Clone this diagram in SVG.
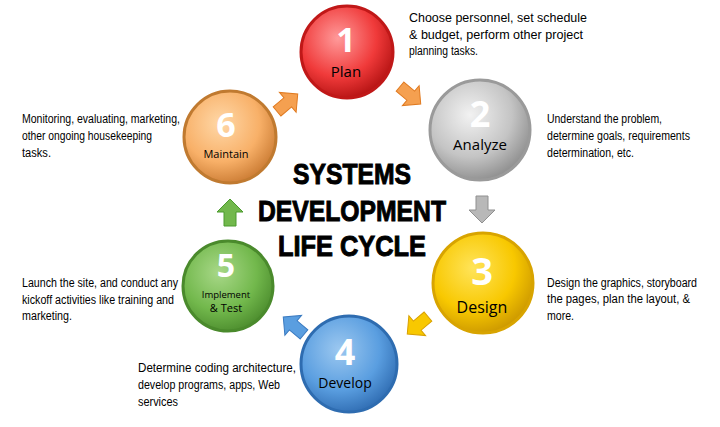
<svg xmlns="http://www.w3.org/2000/svg" width="720" height="427" viewBox="0 0 720 427">
<defs>
<radialGradient id="gR" cx="0.4" cy="0.35" r="0.7"><stop offset="0" stop-color="#ff9a9a"/><stop offset="0.6" stop-color="#f03a3a"/><stop offset="1" stop-color="#b01010"/></radialGradient>
<radialGradient id="gG" cx="0.4" cy="0.35" r="0.7"><stop offset="0" stop-color="#f2f2f2"/><stop offset="0.6" stop-color="#c4c4c4"/><stop offset="1" stop-color="#8a8a8a"/></radialGradient>
<radialGradient id="gY" cx="0.4" cy="0.35" r="0.7"><stop offset="0" stop-color="#ffe45a"/><stop offset="0.6" stop-color="#f8c800"/><stop offset="1" stop-color="#c89400"/></radialGradient>
<radialGradient id="gB" cx="0.4" cy="0.35" r="0.7"><stop offset="0" stop-color="#9cc8f0"/><stop offset="0.6" stop-color="#5a9ee0"/><stop offset="1" stop-color="#2d6ab0"/></radialGradient>
<radialGradient id="gGr" cx="0.4" cy="0.35" r="0.7"><stop offset="0" stop-color="#a8d888"/><stop offset="0.6" stop-color="#72b84c"/><stop offset="1" stop-color="#4a8a2c"/></radialGradient>
<radialGradient id="gO" cx="0.4" cy="0.35" r="0.7"><stop offset="0" stop-color="#ffd8a8"/><stop offset="0.6" stop-color="#f8b068"/><stop offset="1" stop-color="#c87830"/></radialGradient>
<path id="arr" d="M-13,-6 L1,-6 L1,-13 L14,0 L1,13 L1,6 L-13,6 Z"/>
</defs>
<style>
.num{font-family:"Open Sans","DejaVu Sans",sans-serif;font-weight:bold;fill:#fff;text-anchor:middle}
.lbl{font-family:"Open Sans","DejaVu Sans",sans-serif;fill:#000;text-anchor:middle}
.desc{font-family:"Liberation Sans",sans-serif;font-size:12px;fill:#000}
.title{font-family:"Liberation Sans",sans-serif;font-weight:bold;font-size:30px;fill:#000;stroke:#000;stroke-width:1;text-anchor:middle}
circle{stroke-width:3}
</style>
<rect width="720" height="427" fill="#fff"/>
<g id="connectors">
<use href="#arr" transform="translate(287,103) rotate(-40)" fill="#f5a050" stroke="#e07a20"/>
<use href="#arr" transform="translate(410,95) rotate(40)" fill="#f5a050" stroke="#e07a20"/>
<use href="#arr" transform="translate(482,209) rotate(90)" fill="#b8b8b8" stroke="#909090"/>
<use href="#arr" transform="translate(418,325) rotate(140)" fill="#f8c800" stroke="#d8a000"/>
<use href="#arr" transform="translate(294,326) rotate(-140)" fill="#5a9ee0" stroke="#3a7ac0"/>
<use href="#arr" transform="translate(230,213) rotate(-90)" fill="#72b84c" stroke="#4a9a2c"/>
</g>
<g id="node1"><circle cx="347" cy="52" r="46" fill="url(#gR)" stroke="#c01818"/><text class="num" x="346" y="52" font-size="34">1</text><text class="lbl" x="346" y="77" font-size="15">Plan</text></g>
<g id="node2"><circle cx="480" cy="130" r="50" fill="url(#gG)" stroke="#9a9a9a"/><text class="num" x="480" y="127" font-size="36">2</text><text class="lbl" x="480" y="150" font-size="15">Analyze</text></g>
<g id="node3"><circle cx="483" cy="283" r="50" fill="url(#gY)" stroke="#d8a400"/><text class="num" x="482" y="285" font-size="38">3</text><text class="lbl" x="482" y="313" font-size="16">Design</text></g>
<g id="node4"><circle cx="349" cy="364" r="48" fill="url(#gB)" stroke="#2e6cb0"/><text class="num" x="345" y="365" font-size="36">4</text><text class="lbl" x="345" y="388" font-size="14">Develop</text></g>
<g id="node5"><circle cx="228" cy="286" r="45" fill="url(#gGr)" stroke="#4a8a2c"/><text class="num" x="226" y="277" font-size="32">5</text><text class="lbl" x="226" y="298" font-size="9.5">Implement</text><text class="lbl" x="226" y="312" font-size="11">&amp; Test</text></g>
<g id="node6"><circle cx="230" cy="137" r="46" fill="url(#gO)" stroke="#c07a30"/><text class="num" x="226" y="137" font-size="34">6</text><text class="lbl" x="226" y="158" font-size="11">Maintain</text></g>
<g id="title">
<text class="title" x="352" y="184" textLength="118" lengthAdjust="spacingAndGlyphs">SYSTEMS</text>
<text class="title" x="352" y="221" textLength="188" lengthAdjust="spacingAndGlyphs">DEVELOPMENT</text>
<text class="title" x="352" y="256" textLength="148" lengthAdjust="spacingAndGlyphs">LIFE CYCLE</text>
</g>
<g id="descs">
<text class="desc" x="409" y="22" textLength="178" lengthAdjust="spacingAndGlyphs">Choose personnel, set schedule</text>
<text class="desc" x="409" y="39" textLength="174" lengthAdjust="spacingAndGlyphs">&amp; budget, perform other project</text>
<text class="desc" x="409" y="55" textLength="69" lengthAdjust="spacingAndGlyphs">planning tasks.</text>
<text class="desc" x="547" y="123" textLength="115" lengthAdjust="spacingAndGlyphs">Understand the problem,</text>
<text class="desc" x="547" y="140" textLength="143" lengthAdjust="spacingAndGlyphs">determine goals, requirements</text>
<text class="desc" x="547" y="157" textLength="87" lengthAdjust="spacingAndGlyphs">determination, etc.</text>
<text class="desc" x="547" y="287" textLength="150" lengthAdjust="spacingAndGlyphs">Design the graphics, storyboard</text>
<text class="desc" x="547" y="303" textLength="143" lengthAdjust="spacingAndGlyphs">the pages, plan the layout, &amp;</text>
<text class="desc" x="547" y="320" textLength="27" lengthAdjust="spacingAndGlyphs">more.</text>
<text class="desc" x="138" y="372" textLength="158" lengthAdjust="spacingAndGlyphs">Determine coding architecture,</text>
<text class="desc" x="138" y="389" textLength="142" lengthAdjust="spacingAndGlyphs">develop programs, apps, Web</text>
<text class="desc" x="138" y="406" textLength="40" lengthAdjust="spacingAndGlyphs">services</text>
<text class="desc" x="22" y="287" textLength="156" lengthAdjust="spacingAndGlyphs">Launch the site, and conduct any</text>
<text class="desc" x="22" y="304" textLength="152" lengthAdjust="spacingAndGlyphs">kickoff activities like training and</text>
<text class="desc" x="22" y="320" textLength="50" lengthAdjust="spacingAndGlyphs">marketing.</text>
<text class="desc" x="22" y="123" textLength="158" lengthAdjust="spacingAndGlyphs">Monitoring, evaluating, marketing,</text>
<text class="desc" x="22" y="140" textLength="130" lengthAdjust="spacingAndGlyphs">other ongoing housekeeping</text>
<text class="desc" x="22" y="157" textLength="29" lengthAdjust="spacingAndGlyphs">tasks.</text>
</g>
</svg>
